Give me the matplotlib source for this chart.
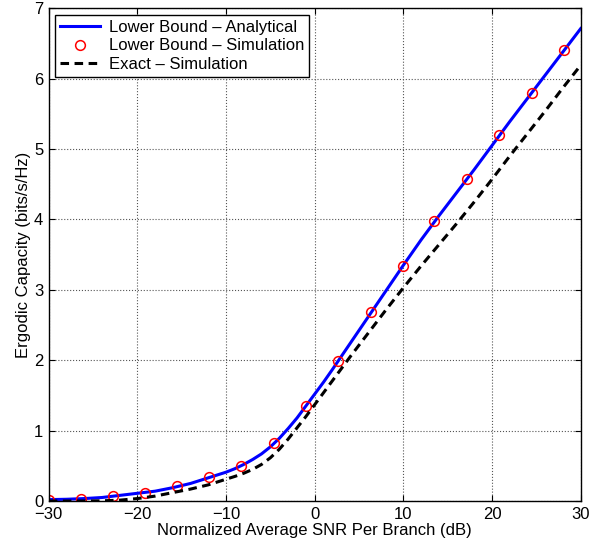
import matplotlib
matplotlib.use("Agg")
import matplotlib.pyplot as plt

# SNR grid (dB) for the curves (finer around the knee)
snr_db = [-30, -28, -26, -24, -22, -20, -18, -16, -14, -12, -10, -9, -8, -7, -6,
          -5, -4, -3, -2, -1, 0, 1, 2, 4, 6, 8, 10, 12, 14, 16, 18, 20, 22, 24,
          26, 28, 30]

# Lower bound - analytical (blue solid)
lb_analytical = [0.02, 0.025, 0.035, 0.05, 0.08, 0.11, 0.14, 0.19, 0.25, 0.33, 0.41,
                 0.46, 0.52, 0.59, 0.67, 0.77, 0.89, 1.03, 1.18, 1.35, 1.52, 1.69,
                 1.87, 2.24, 2.61, 2.98, 3.35, 3.71, 4.05, 4.38, 4.71, 5.05, 5.39,
                 5.72, 6.05, 6.38, 6.71]

# Exact - simulation (black dashed)
exact_sim = [0.0, 0.0, 0.0, 0.003, 0.012, 0.035, 0.07, 0.12, 0.17, 0.23, 0.31,
             0.35, 0.395, 0.45, 0.52, 0.615, 0.735, 0.88, 1.04, 1.20, 1.37, 1.54,
             1.71, 2.05, 2.38, 2.71, 3.03, 3.34, 3.64, 3.94, 4.25, 4.57, 4.90,
             5.22, 5.54, 5.87, 6.19]

# Lower bound - simulation (red circles)
sim_snr_db = [-30, -26.4, -22.8, -19.2, -15.5, -11.9, -8.3, -4.6, -1.0,
              2.6, 6.3, 9.9, 13.5, 17.2, 20.8, 24.5, 28.1]
lb_simulation = [0.02, 0.03, 0.07, 0.12, 0.21, 0.34, 0.50, 0.82, 1.35,
                 1.99, 2.68, 3.34, 3.97, 4.58, 5.20, 5.79, 6.41]

plt.rcParams["font.family"] = ["Liberation Sans", "DejaVu Sans"]

fig = plt.figure(figsize=(5.95, 5.44), dpi=100)
ax = fig.add_axes([0.082, 0.079, 0.894, 0.906])

ax.plot(snr_db, lb_analytical, color="#0000ff", lw=2.2, label="Lower Bound \u2013 Analytical")
ax.plot(sim_snr_db, lb_simulation, "o", ms=7, mfc="none", mec="#ff0000", mew=1.1,
        label="Lower Bound \u2013 Simulation")
ax.plot(snr_db, exact_sim, color="black", lw=2.2, ls=(0, (2.8, 1.8)),
        label="Exact \u2013 Simulation")

ax.set_xlim(-30, 30)
ax.set_ylim(0, 7)
ax.set_xticks([-30, -20, -10, 0, 10, 20, 30])
ax.set_yticks(range(0, 8))
ax.grid(True, ls=":", color="#555555", lw=0.8)
ax.tick_params(direction="in", top=True, right=True, labelsize=12, length=4,
               width=0.8, pad=4)
for sp in ax.spines.values():
    sp.set_linewidth(1.0)

ax.set_xlabel("Normalized Average SNR Per Branch (dB)", fontsize=12, labelpad=1)
ax.set_ylabel("Ergodic Capacity (bits/s/Hz)", fontsize=12, labelpad=2)

leg = ax.legend(loc="upper left", fontsize=12, fancybox=False, framealpha=1,
                edgecolor="black", borderaxespad=0.4, handlelength=2.4,
                borderpad=0.3, labelspacing=0.22, handletextpad=0.5)
leg.get_frame().set_linewidth(1.0)

fig.savefig("out.png", dpi=100)
